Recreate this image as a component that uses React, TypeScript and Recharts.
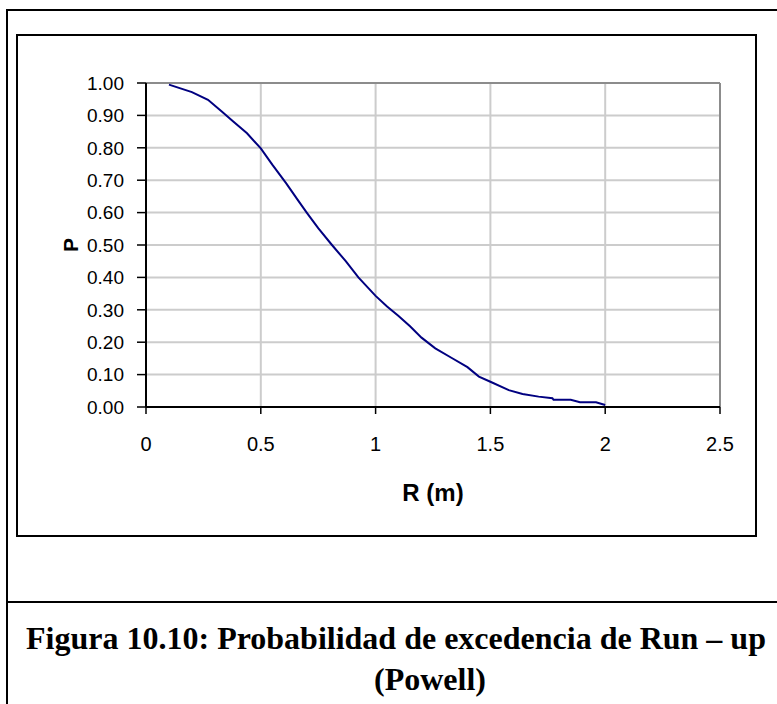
import React from 'react';
import { LineChart, Line, XAxis, YAxis, CartesianGrid, ReferenceLine } from 'recharts';

// R (m) values
const R_VALUES = [
  0.1, 0.2, 0.27, 0.33, 0.38, 0.44, 0.5, 0.55, 0.61, 0.66, 0.7, 0.75, 0.81, 0.87,
  0.925, 1.0, 1.05, 1.1, 1.15, 1.2, 1.26, 1.33, 1.4, 1.45, 1.5, 1.58, 1.64,
  1.71, 1.77, 1.775, 1.85, 1.89, 1.96, 2.0,
];

// exceedance probability P for each R
const P_VALUES = [
  0.995, 0.972, 0.948, 0.912, 0.881, 0.845, 0.798, 0.748, 0.691, 0.64, 0.6, 0.552,
  0.5, 0.45, 0.4, 0.343, 0.31, 0.281, 0.249, 0.214, 0.181, 0.152, 0.123, 0.094,
  0.078, 0.052, 0.04, 0.032, 0.027, 0.022, 0.022, 0.0145, 0.0145, 0.006,
];

const X_TICKS = [0, 0.5, 1, 1.5, 2, 2.5];
const Y_TICKS = [0, 0.1, 0.2, 0.3, 0.4, 0.5, 0.6, 0.7, 0.8, 0.9, 1.0];

const CAPTION_LINE_1 = 'Figura 10.10: Probabilidad de excedencia de Run \u2013 up';
const CAPTION_LINE_2 = '(Powell)';

const data = R_VALUES.map((r, i) => ({ r, p: P_VALUES[i] }));

const SANS = '"Liberation Sans", Arial, sans-serif';
const SERIF = '"Liberation Serif", "Times New Roman", serif';

const renderYTitle = (props: any) => {
  const vb = props.viewBox || {};
  const cx = vb.x + 24;
  const cy = vb.y + vb.height / 2;
  return (
    <text
      x={cx}
      y={cy}
      transform={`rotate(-90 ${cx} ${cy})`}
      textAnchor="middle"
      dominantBaseline="central"
      fontFamily={SANS}
      fontWeight="bold"
      fontSize={21}
      fill="#000"
    >
      P
    </text>
  );
};

const renderXTitle = (props: any) => {
  const vb = props.viewBox || {};
  return (
    <text
      x={vb.x + vb.width / 2}
      y={vb.y + 85}
      textAnchor="middle"
      dominantBaseline="central"
      fontFamily={SANS}
      fontWeight="bold"
      fontSize={24}
      fill="#000"
    >
      R (m)
    </text>
  );
};

const App: React.FC = () => {
  return (
    <div
      style={{
        position: 'absolute',
        left: 0,
        top: 0,
        width: 777,
        height: 704,
        overflow: 'hidden',
        background: '#fff',
      }}
    >
      {/* outer figure frame */}
      <div
        style={{
          position: 'absolute',
          left: 6,
          top: 9,
          width: 800,
          height: 720,
          borderLeft: '2px solid #000',
          borderTop: '2px solid #000',
        }}
      />
      {/* caption separator */}
      <div
        style={{
          position: 'absolute',
          left: 6,
          top: 601,
          width: 800,
          height: 0,
          borderTop: '2px solid #000',
        }}
      />
      {/* chart frame */}
      <div
        style={{
          position: 'absolute',
          left: 16,
          top: 34,
          width: 737,
          height: 499,
          border: '2px solid #000',
        }}
      />

      <div style={{ position: 'absolute', left: 0, top: 0 }}>
        <LineChart
          width={777}
          height={600}
          data={data}
          margin={{ top: 83, right: 57, bottom: 93, left: 46 }}
        >
          <CartesianGrid stroke="#cccccc" strokeWidth={2} />
          <ReferenceLine y={1} stroke="#8c8c8c" strokeWidth={2} />
          <ReferenceLine x={2.5} stroke="#8c8c8c" strokeWidth={2} />
          <XAxis
            dataKey="r"
            type="number"
            domain={[0, 2.5]}
            ticks={X_TICKS}
            interval={0}
            height={100}
            tickSize={7}
            tickMargin={23}
            axisLine={{ stroke: '#000', strokeWidth: 2 }}
            tickLine={{ stroke: '#000', strokeWidth: 1.5 }}
            tick={{ fill: '#000', fontSize: 20, fontFamily: SANS }}
            tickFormatter={(v: number) => String(v)}
            label={renderXTitle}
          />
          <YAxis
            type="number"
            domain={[0, 1]}
            ticks={Y_TICKS}
            interval={0}
            width={100}
            tickSize={9}
            tickMargin={13}
            axisLine={{ stroke: '#000', strokeWidth: 2 }}
            tickLine={{ stroke: '#000', strokeWidth: 1.5 }}
            tick={{ fill: '#000', fontSize: 19, fontFamily: SANS }}
            tickFormatter={(v: number) => v.toFixed(2)}
            label={renderYTitle}
          />
          <Line
            type="linear"
            dataKey="p"
            stroke="#000080"
            strokeWidth={2}
            dot={false}
            isAnimationActive={false}
          />
        </LineChart>
      </div>

      {/* caption */}
      <div
        style={{
          position: 'absolute',
          left: 6,
          width: 780,
          top: 622,
          textAlign: 'center',
          fontFamily: SERIF,
          fontWeight: 'bold',
          fontSize: 32,
          lineHeight: '32px',
          whiteSpace: 'nowrap',
        }}
      >
        {CAPTION_LINE_1}
      </div>
      <div
        style={{
          position: 'absolute',
          left: 374,
          top: 663,
          fontFamily: SERIF,
          fontWeight: 'bold',
          fontSize: 32,
          lineHeight: '32px',
          whiteSpace: 'nowrap',
        }}
      >
        {CAPTION_LINE_2}
      </div>
    </div>
  );
};

export default App;
